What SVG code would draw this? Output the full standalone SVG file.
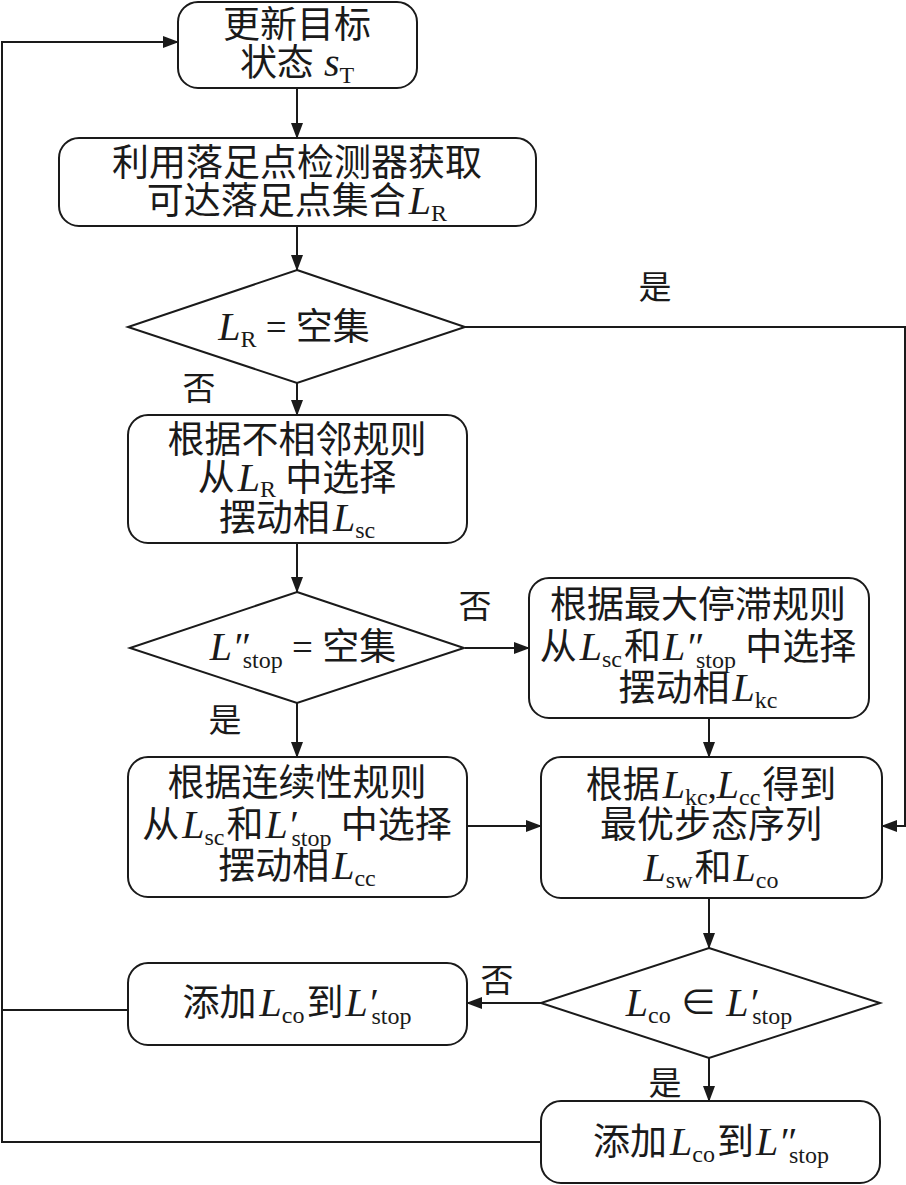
<svg xmlns="http://www.w3.org/2000/svg" width="906" height="1185" viewBox="0 0 906 1185">
<style>
.box{fill:#fff;stroke:#1a1a1a;stroke-width:2}
.ln{fill:none;stroke:#1a1a1a;stroke-width:2}
.t{font-family:"Liberation Serif","Noto Sans CJK SC",serif;font-size:37px;text-anchor:middle;fill:#1a1a1a}
.lb{font-family:"Liberation Serif","Noto Sans CJK SC",serif;font-size:33px;text-anchor:middle;fill:#1a1a1a}
.i{font-style:italic;font-size:40px}
.s{font-size:24px}
</style>
<defs>
<marker id="arr" markerUnits="userSpaceOnUse" markerWidth="16" markerHeight="12" refX="15" refY="6" orient="auto">
<path d="M0,0 L16,6 L0,12 z" fill="#1a1a1a"/>
</marker>
</defs>
<rect width="906" height="1185" fill="#fff"/>
<g id="connectors">
<path class="ln" d="M297,88 V138" marker-end="url(#arr)"/>
<path class="ln" d="M297,226 V270" marker-end="url(#arr)"/>
<path class="ln" d="M465,327 H905 V826 H882" marker-end="url(#arr)"/>
<path class="ln" d="M297,383 V415" marker-end="url(#arr)"/>
<path class="ln" d="M297,543 V592" marker-end="url(#arr)"/>
<path class="ln" d="M465,648 H529" marker-end="url(#arr)"/>
<path class="ln" d="M297,703 V757" marker-end="url(#arr)"/>
<path class="ln" d="M467,826 H541" marker-end="url(#arr)"/>
<path class="ln" d="M709,718 V757" marker-end="url(#arr)"/>
<path class="ln" d="M709,898 V948" marker-end="url(#arr)"/>
<path class="ln" d="M541,1003 H467" marker-end="url(#arr)"/>
<path class="ln" d="M709,1058 V1101" marker-end="url(#arr)"/>
<path class="ln" d="M541,1142 H2 V42 H178" marker-end="url(#arr)"/>
<path class="ln" d="M128,1010 H2"/>
<text class="lb" x="655" y="299">是</text>
<text class="lb" x="199" y="400">否</text>
<text class="lb" x="475" y="618">否</text>
<text class="lb" x="225" y="732">是</text>
<text class="lb" x="497" y="992">否</text>
<text class="lb" x="665" y="1095">是</text>
</g>
<g id="n1">
<rect class="box" x="178" y="2" width="239" height="86" rx="20"/>
<text class="t" x="297" y="38">更新目标</text>
<text class="t" x="297" y="76">状态<tspan class="i"> s</tspan><tspan class="s" dy="7">T</tspan></text>
</g>
<g id="n2">
<rect class="box" x="59" y="138" width="477" height="88" rx="20"/>
<text class="t" x="297" y="176">利用落足点检测器获取</text>
<text class="t" x="297" y="214">可达落足点集合<tspan class="i" dx="3">L</tspan><tspan class="s" dy="7">R</tspan></text>
</g>
<g id="d1">
<path class="box" d="M297,270 L465,327 L297,383 L128,327 Z"/>
<text class="t" x="294" y="340"><tspan class="i">L</tspan><tspan class="s" dy="7">R</tspan><tspan dy="-7"> = 空集</tspan></text>
</g>
<g id="n3">
<rect class="box" x="128" y="415" width="339" height="128" rx="20"/>
<text class="t" x="297" y="453">根据不相邻规则</text>
<text class="t" x="297" y="491">从<tspan class="i" dx="3">L</tspan><tspan class="s" dy="6">R</tspan><tspan dy="-6"> 中选择</tspan></text>
<text class="t" x="297" y="531">摆动相<tspan class="i" dx="3">L</tspan><tspan class="s" dy="7">sc</tspan></text>
</g>
<g id="d2">
<path class="box" d="M297,592 L464,648 L297,703 L130,648 Z"/>
<text class="t" x="303" y="660"><tspan class="i">L″</tspan><tspan class="s" dx="-6" dy="8">stop</tspan><tspan dy="-8"> = 空集</tspan></text>
</g>
<g id="n4">
<rect class="box" x="529" y="578" width="340" height="140" rx="20"/>
<text class="t" x="698" y="618">根据最大停滞规则</text>
<text class="t" x="698" y="660">从<tspan class="i" dx="3">L</tspan><tspan class="s" dy="7">sc</tspan><tspan dy="-7" dx="2">和</tspan><tspan class="i" dx="2">L″</tspan><tspan class="s" dx="-6" dy="8">stop</tspan><tspan dy="-8"> 中选择</tspan></text>
<text class="t" x="698" y="701">摆动相<tspan class="i" dx="3">L</tspan><tspan class="s" dy="7">kc</tspan></text>
</g>
<g id="n5">
<rect class="box" x="128" y="757" width="339" height="140" rx="20"/>
<text class="t" x="297" y="796">根据连续性规则</text>
<text class="t" x="297" y="838">从<tspan class="i" dx="3">L</tspan><tspan class="s" dy="7">sc</tspan><tspan dy="-7" dx="2">和</tspan><tspan class="i" dx="2">L′</tspan><tspan class="s" dx="-5" dy="8">stop</tspan><tspan dy="-8"> 中选择</tspan></text>
<text class="t" x="297" y="879">摆动相<tspan class="i" dx="3">L</tspan><tspan class="s" dy="7">cc</tspan></text>
</g>
<g id="n6">
<rect class="box" x="541" y="757" width="341" height="141" rx="20"/>
<text class="t" x="711" y="798">根据<tspan class="i" dx="3">L</tspan><tspan class="s" dy="7">kc</tspan><tspan dy="-7">,</tspan><tspan class="i">L</tspan><tspan class="s" dy="7">cc</tspan><tspan dy="-7" dx="2">得到</tspan></text>
<text class="t" x="711" y="838">最优步态序列</text>
<text class="t" x="711" y="881"><tspan class="i">L</tspan><tspan class="s" dy="7">sw</tspan><tspan dy="-7" dx="2">和</tspan><tspan class="i" dx="2">L</tspan><tspan class="s" dy="7">co</tspan></text>
</g>
<g id="d3">
<path class="box" d="M709,948 L880,1003 L709,1058 L541,1003 Z"/>
<text class="t" x="709" y="1016"><tspan class="i">L</tspan><tspan class="s" dy="7">co</tspan><tspan dy="-7"> ∈ </tspan><tspan class="i">L′</tspan><tspan class="s" dx="-5" dy="8">stop</tspan></text>
</g>
<g id="n7">
<rect class="box" x="128" y="963" width="339" height="82" rx="20"/>
<text class="t" x="297" y="1016">添加<tspan class="i" dx="3">L</tspan><tspan class="s" dy="7">co</tspan><tspan dy="-7" dx="2">到</tspan><tspan class="i" dx="2">L′</tspan><tspan class="s" dx="-5" dy="8">stop</tspan></text>
</g>
<g id="n8">
<rect class="box" x="541" y="1101" width="339" height="82" rx="20"/>
<text class="t" x="711" y="1155">添加<tspan class="i" dx="3">L</tspan><tspan class="s" dy="7">co</tspan><tspan dy="-7" dx="2">到</tspan><tspan class="i" dx="2">L″</tspan><tspan class="s" dx="-6" dy="8">stop</tspan></text>
</g>
</svg>
